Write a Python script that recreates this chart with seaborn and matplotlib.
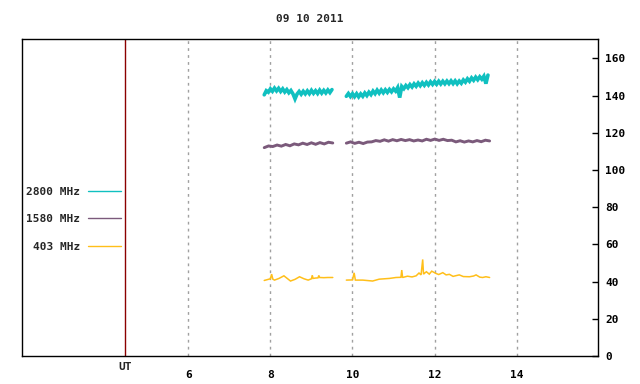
import numpy as np
import pandas as pd
import seaborn as sns
import matplotlib
matplotlib.use('Agg')
from matplotlib import pyplot as plt
from matplotlib import transforms

sns.set_style('white')
plt.rcParams['font.family'] = ['DejaVu Sans Mono']
plt.rcParams['font.weight'] = 'bold'
plt.rcParams['font.size'] = 8

title = '09 10 2011'
series_names = ['2800 MHz', '1580 MHz', '403 MHz']
colors = {'2800 MHz': '#10c0c0', '1580 MHz': '#7b5a7b', '403 MHz': '#ffbf1a'}
widths = {'2800 MHz': 2.6, '1580 MHz': 2.1, '403 MHz': 1.1}
xticks = [6, 8, 10, 12, 14]
yticks = [0, 20, 40, 60, 80, 100, 120, 140, 160]
ut_hour = 4.45

# 2800 MHz, two segments (hour range + values)
cyan1_range = (7.85, 9.50)
cyan1 = [140.4, 142.6, 141.8, 143.6, 142.3, 144.0, 142.5, 143.9, 142.2, 143.6,
         141.9, 143.2, 141.5, 142.7, 140.9, 138.2, 140.8, 142.2, 140.7, 142.3,
         140.9, 142.5, 141.0, 142.8, 141.2, 142.6, 141.1, 142.9, 141.3, 142.8,
         141.4, 143.0, 141.6, 143.2]
cyan2_range = (9.85, 13.30)
cyan2 = [139.6, 141.1, 139.5, 141.0, 139.4, 141.0, 139.3, 140.9, 139.6, 141.4,
         140.0, 141.8, 140.5, 142.4, 141.0, 142.9, 141.3, 143.0, 141.5, 143.1,
         141.7, 143.3, 142.0, 143.6, 142.4, 144.3, 138.9, 144.9, 143.7, 145.4,
         144.2, 145.9, 144.6, 146.3, 145.0, 146.7, 145.3, 146.9, 145.5, 147.1,
         145.7, 147.4, 146.0, 147.6, 146.1, 147.7, 146.2, 147.7, 146.3, 147.8,
         146.4, 147.9, 146.4, 147.9, 146.3, 147.8, 146.6, 148.4, 147.2, 149.0,
         147.7, 149.5, 148.2, 149.9, 148.5, 150.1, 148.8, 150.4, 146.4, 151.0]

# 1580 MHz
purple1_range = (7.85, 9.52)
purple1 = [112.0, 112.9, 112.6, 113.4, 112.8, 113.7, 113.0, 114.0, 113.5, 114.4,
           113.7, 114.6, 113.8, 114.7, 114.0, 114.9, 114.5]
purple2_range = (9.85, 13.34)
purple2 = [114.4, 115.1, 114.3, 114.9, 114.2, 115.0, 115.1, 115.8, 115.4, 116.2,
           115.5, 116.3, 115.7, 116.4, 115.8, 116.3, 115.6, 116.1, 115.6, 116.5,
           115.9, 116.6, 115.9, 116.5, 115.8, 116.0, 115.1, 115.7, 115.0, 115.6,
           115.1, 115.8, 115.2, 116.0, 115.6]

# 403 MHz
yellow1_h = [7.85, 7.95, 8.0, 8.03, 8.06, 8.1, 8.21, 8.33, 8.41, 8.49, 8.6, 8.71,
             8.82, 8.92, 9.0, 9.02, 9.04, 9.1, 9.16, 9.18, 9.2, 9.3, 9.4, 9.52]
yellow1 = [40.6, 41.2, 41.5, 44.0, 41.3, 40.8, 41.7, 43.1, 41.7, 40.3, 41.2, 42.6,
           41.5, 40.8, 41.5, 43.4, 41.7, 41.9, 42.0, 43.3, 42.2, 42.1, 42.2, 42.2]
yellow2_h = [9.85, 10.0, 10.04, 10.07, 10.25, 10.49, 10.65, 10.9, 11.06, 11.18,
             11.2, 11.22, 11.34, 11.45, 11.55, 11.62, 11.67, 11.71, 11.73, 11.75,
             11.8, 11.87, 11.93, 12.03, 12.1, 12.2, 12.28, 12.36, 12.45, 12.6,
             12.7, 12.85, 12.95, 13.01, 13.1, 13.17, 13.25, 13.34]
yellow2 = [40.8, 40.9, 44.7, 40.8, 40.8, 40.3, 41.3, 41.7, 42.2, 42.3,
           46.2, 42.2, 42.9, 42.5, 43.1, 44.6, 43.6, 51.9, 44.0, 44.4,
           45.3, 44.0, 45.6, 44.4, 43.8, 44.8, 43.6, 43.9, 42.8, 43.6,
           42.7, 42.6, 43.0, 43.6, 42.4, 42.2, 42.6, 42.2]


def seg(name, seg_id, hours, values):
    return pd.DataFrame({'hour': hours, 'value': values, 'series': name, 'seg': seg_id})


df = pd.concat([
    seg('2800 MHz', 0, np.linspace(*cyan1_range, len(cyan1)), cyan1),
    seg('2800 MHz', 1, np.linspace(*cyan2_range, len(cyan2)), cyan2),
    seg('1580 MHz', 0, np.linspace(*purple1_range, len(purple1)), purple1),
    seg('1580 MHz', 1, np.linspace(*purple2_range, len(purple2)), purple2),
    seg('403 MHz', 0, yellow1_h, yellow1),
    seg('403 MHz', 1, yellow2_h, yellow2),
], ignore_index=True)

fig = plt.figure(figsize=(6.4, 3.84), dpi=100)
ax = fig.add_axes([22/640, 28/384, 576/640, 317/384])

sns.lineplot(data=df, x='hour', y='value', hue='series', size='series',
             hue_order=series_names, size_order=series_names,
             palette=colors, sizes=widths, units='seg', estimator=None,
             sort=False, solid_joinstyle='miter', ax=ax)

ax.set_xlim(1.95, 15.98)
ax.set_ylim(0, 170.4)
ax.set_xticks(xticks)
ax.set_yticks(yticks)
ax.set_xlabel('')
ax.set_ylabel('')
ax.grid(axis='x', color='#a0a0a0', linestyle=(0, (2, 3)), lw=1)
ax.grid(axis='y', visible=False)
ax.yaxis.tick_right()
ax.tick_params(axis='x', direction='in', length=4, width=1, pad=10, labelsize=8, colors='black')
ax.tick_params(axis='y', direction='in', length=4, width=1, pad=5, labelsize=8, colors='black')
for s in ax.spines.values():
    s.set_color('black')
    s.set_linewidth(1)

ax.axvline(ut_hour, color='#8b0000', lw=1)
trans = transforms.blended_transform_factory(ax.transData, ax.transAxes)
ax.text(ut_hour, -0.035, 'UT', transform=trans, ha='center', va='center', fontsize=8)

handles, labels = ax.get_legend_handles_labels()
for h in handles:
    h.set_linewidth(1)
ax.legend(handles, labels, loc='center right', bbox_to_anchor=(0.172, 0.431),
          frameon=False, markerfirst=False, handlelength=3.0, handletextpad=0.7,
          labelspacing=1.6, borderpad=0, borderaxespad=0, fontsize=8)

fig.text(310/640, 1 - 19/384, title, ha='center', va='center', fontsize=8)

fig.savefig('out.png', dpi=100)
